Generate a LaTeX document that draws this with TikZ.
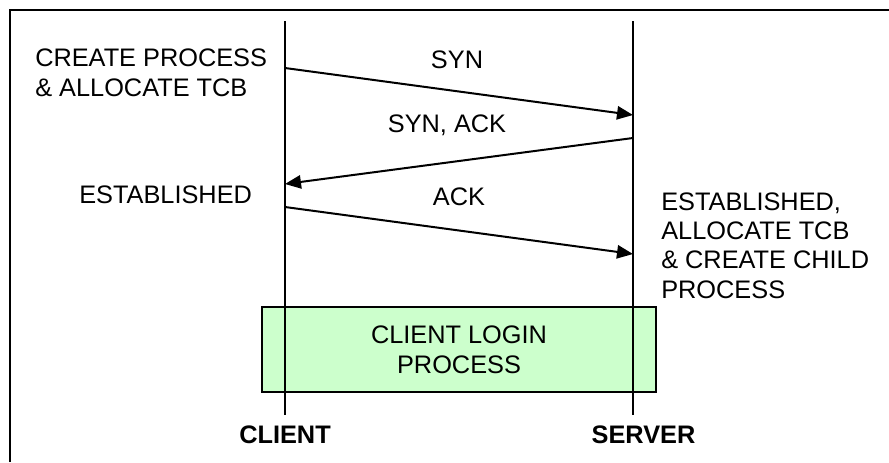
\documentclass[tikz,border=0pt]{standalone}
\usepackage{fontspec}
\setmainfont{Liberation Sans}
\usepackage{xcolor}
\usetikzlibrary{positioning,arrows.meta}
\definecolor{loginfill}{HTML}{CCFFCC}

\begin{document}
\begin{tikzpicture}[x=0.75pt,y=-0.75pt,
    frame/.style={line width=1.5pt},
    lifeline/.style={line width=1.5pt},
    msg/.style={line width=1.5pt, -{Triangle[length=12pt,width=10pt]}},
    lbl/.style={inner sep=0pt, font=\fontsize{19}{21.9}\selectfont},
    note/.style={lbl, align=left, anchor=base west},
    side/.style={lbl, font=\fontsize{19}{21.9}\selectfont\bfseries, anchor=base},
    loginbox/.style={draw, line width=1.5pt, fill=loginfill, align=center,
        minimum width=295.5pt, minimum height=63.75pt,
        font=\fontsize{19}{22.5}\selectfont}]
    \useasboundingbox (0,0) rectangle (889,462);

    % outer frame
    \draw[frame] (10,462) -- (10,10) -- (889,10);

    % login process
    \node[loginbox] (login) at (459,349.5) {CLIENT LOGIN\\PROCESS};

    % lifelines
    \coordinate (ctop) at (285,21);
    \coordinate (cbot) at (285,415);
    \coordinate (stop) at (633,21);
    \coordinate (sbot) at (633,415);
    \draw[lifeline] (ctop) -- (cbot);
    \draw[lifeline] (stop) -- (sbot);

    % messages
    \coordinate (c1) at (285,68);
    \coordinate (s1) at (633,115);
    \coordinate (s2) at (633,138);
    \coordinate (c2) at (285,184);
    \coordinate (c3) at (285,207);
    \coordinate (s3) at (633,254);
    \draw[msg] (c1) -- (s1);
    \draw[msg] (s2) -- (c2);
    \draw[msg] (c3) -- (s3);

    \node[lbl, anchor=base] (syn)    at (457,68)  {SYN};
    \node[lbl, anchor=base] (synack) at (447,132) {SYN, ACK};
    \node[lbl, anchor=base] (ack)    at (459,205) {ACK};

    % states (base = last line)
    \node[note] (create) at (35,96)   {CREATE PROCESS\\\& ALLOCATE TCB};
    \node[note] (estc)   at (79,203)  {ESTABLISHED};
    \node[note] (ests)   at (661,298) {ESTABLISHED,\\ALLOCATE TCB\\\& CREATE CHILD\\PROCESS};

    % hosts
    \node[side] (client) at (285,443)   {CLIENT};
    \node[side] (server) at (643.5,443) {SERVER};
\end{tikzpicture}
\end{document}
